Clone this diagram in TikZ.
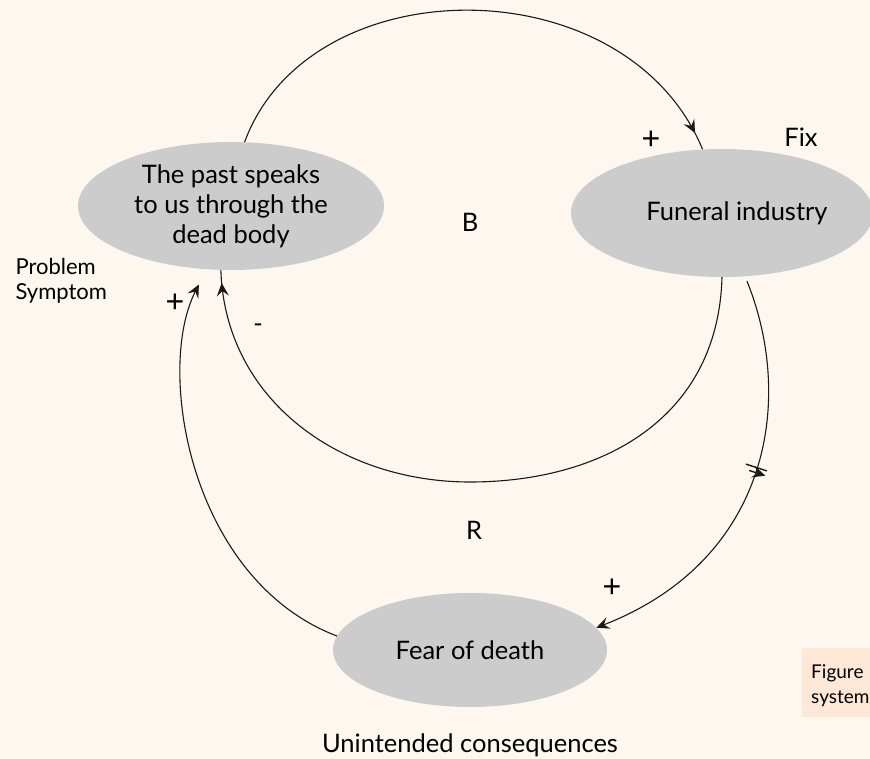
\documentclass[tikz,border=0pt]{standalone}
\usepackage{fontspec}
\setmainfont{Lato}
\newfontfamily\zeichenschrift{Liberation Sans}
\usetikzlibrary{shapes.geometric}
\usetikzlibrary {arrows.meta}
\usetikzlibrary {decorations.markings}
\definecolor{papier}{HTML}{FDF7F0}
\definecolor{grau}{HTML}{CCCCCC}
\definecolor{pfirsich}{HTML}{FDE8D7}
\tikzset{blase/.style = {
ellipse, fill = grau, inner sep=0pt, align=center, font=\fontsize{25.5}{30}\selectfont
}}
\tikzset{beschr/.style = {font=\fontsize{25.5}{27}\selectfont}}
\tikzset{zeichen/.style = {font=\zeichenschrift\fontsize{32}{32}\selectfont}}
\tikzset{kante/.style = {line width=1.1pt, black!90}}
\tikzset{pfeil/.style = {-{Stealth[length=13pt,width=12pt,inset=5pt]}}}
\tikzset{vpfeil/.style = {postaction=decorate, decoration={markings,
mark=at position #1 with {\arrow{Stealth[length=13pt,width=12pt,inset=5pt]}}}}}
\tikzset{strich/.style = {postaction=decorate, decoration={markings,
mark=at position 0.46 with {\draw[line width=1.4pt] (-2.5pt,-11pt) -- (-2.5pt,11pt) (2.5pt,-11pt) -- (2.5pt,11pt);}}}}

\begin{document}
\begin{tikzpicture}[x=1pt,y=-1pt]
\useasboundingbox (0,0) rectangle (870,759);
\fill[papier] (0,0) rectangle (870,759);
\fill[pfirsich] (802,648) rectangle (870,717);

\node[blase,minimum width=306pt,minimum height=128pt] (past) at (231,206) {The past speaks\\to us through the\\dead body};
\node[blase,minimum width=302pt,minimum height=128pt] (funeral) at (722,213) {\hspace*{30pt}Funeral industry};
\node[blase,minimum width=274pt,minimum height=114pt] (fear) at (470,650) {Fear of death};

\node[beschr] (fix) at (801,137) {Fix};
\node[beschr] (b) at (470,222) {B};
\node[beschr] (r) at (474,530) {R};
\node[font=\fontsize{22}{25}\selectfont,align=left,anchor=west] (problem) at (12,281) {Problem\\Symptom};
\node[zeichen] (plus1) at (651,140) {+};
\node[zeichen] (plus2) at (175,303) {+};
\node[beschr] (minus) at (258,328) {-};
\node[zeichen] (plus3) at (612,588) {+};
\node[beschr] (folgen) at (470,745) {Unintended consequences};
\node[font=\fontsize{19}{25}\selectfont,align=left,anchor=north west,inner sep=0pt] (figur) at (811,664) {Figure\\system};

\draw[kante,vpfeil=-18pt] (past.78) .. controls (310,-35) and (627,-35) .. (funeral.107);
\draw[kante,vpfeil=-13pt] (funeral.270) .. controls (718,420) and (600,482) .. (470,482)
  .. controls (340,482) and (225,400) .. (past.261);
\draw[kante,pfeil,strich,shorten <=5pt] (funeral.290) .. controls (795,400) and (770,560) .. (fear.10);
\draw[kante,pfeil,shorten >=17pt] (fear.174) .. controls (190,580) and (155,370) .. (past.249);

\end{tikzpicture}
\end{document}
